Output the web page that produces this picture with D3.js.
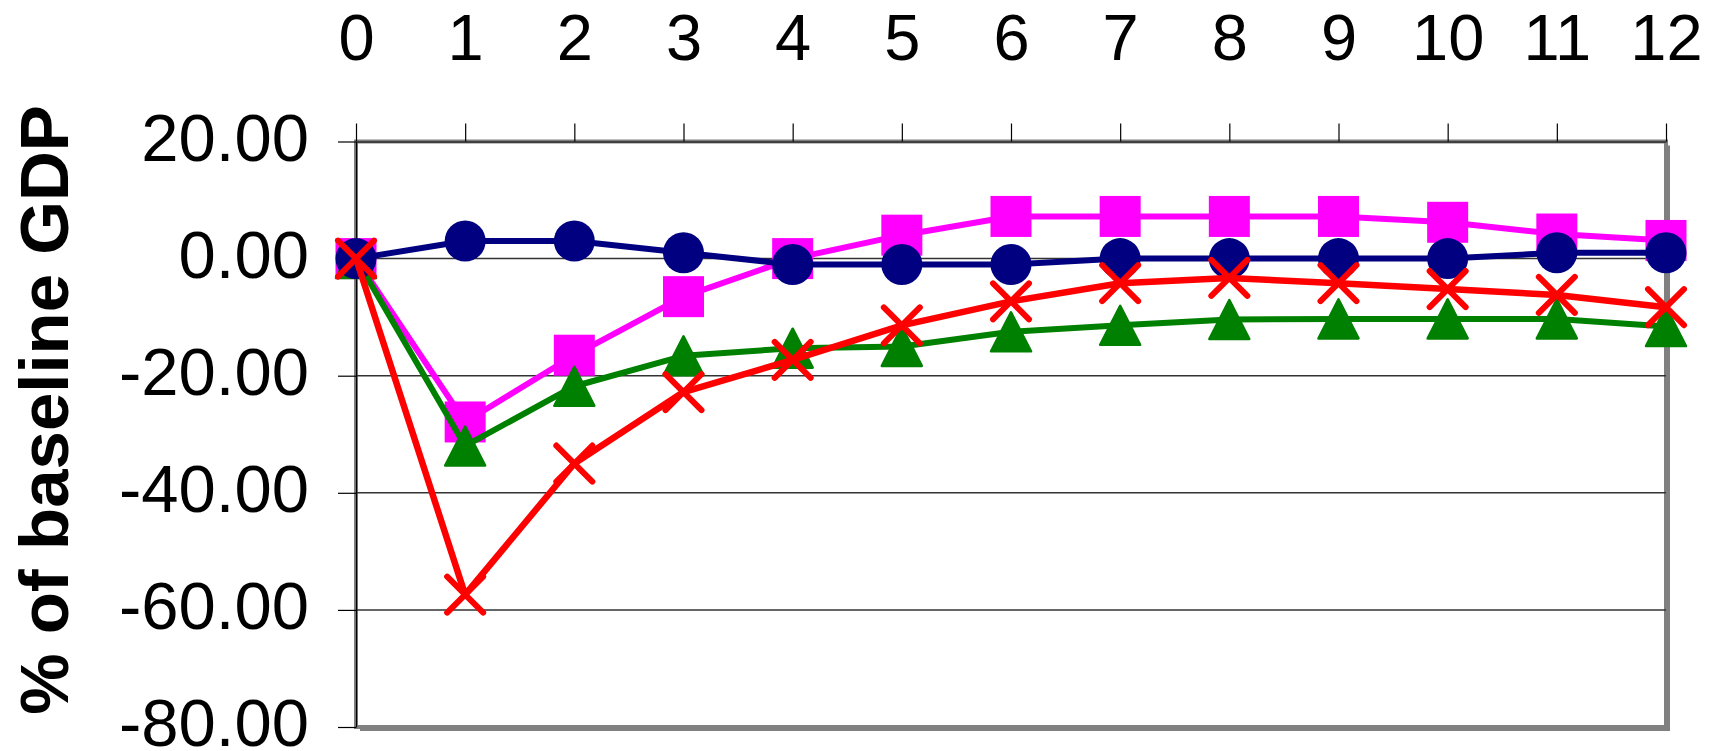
<!DOCTYPE html>
<html>
<head>
<meta charset="utf-8">
<script src="https://cdn.jsdelivr.net/npm/d3@7/dist/d3.min.js"></script>
<style>
  html, body { margin: 0; padding: 0; background: #ffffff; }
  svg { display: block; }
  text { font-family: "Liberation Sans", Arial, sans-serif; fill: #000; }
</style>
</head>
<body>
<svg id="chart" width="1725" height="751"></svg>
<script>
// Years after the shock (top axis)
const periods = [0, 1, 2, 3, 4, 5, 6, 7, 8, 9, 10, 11, 12];
const xTickLabels = ["0", "1", "2", "3", "4", "5", "6", "7", "8", "9", "10", "11", "12"];
const yTickValues = [20, 0, -20, -40, -60, -80];
const gridValues = [0, -20, -40, -60];

// Response of each scenario, % of baseline GDP
const circleSeries   = [0, 3, 3, 1, -1, -1, -1, 0, 0, 0, 0, 1, 1];
const squareSeries   = [0, -27.9, -16.5, -6.5, 0, 4, 7.2, 7.2, 7.2, 7.2, 6.2, 4.2, 3.1];
const triangleSeries = [0, -32, -21.8, -16.6, -15.3, -15, -12.5, -11.4, -10.4, -10.3, -10.3, -10.3, -11.6];
const crossSeries    = [0, -57.4, -35, -22.8, -17.3, -11.4, -7.3, -4.2, -3.3, -4.2, -5.2, -6.2, -8.3];

const yTitle = "% of baseline GDP";

const svg = d3.select("#chart");
const plot = { left: 356, right: 1666, top: 141.5, bottom: 727 };

const x = d3.scaleLinear().domain([0, 12]).range([plot.left, plot.right]);
const y = d3.scaleLinear().domain([-80, 20]).range([plot.bottom, plot.top]);

// Plot area with drop shadow
svg.append("rect")
  .attr("x", plot.left + 4).attr("y", plot.top + 4)
  .attr("width", plot.right - plot.left).attr("height", plot.bottom - plot.top)
  .attr("fill", "#808080");
svg.append("rect")
  .attr("x", plot.left).attr("y", plot.top)
  .attr("width", plot.right - plot.left).attr("height", plot.bottom - plot.top)
  .attr("fill", "#ffffff").attr("stroke", "#808080").attr("stroke-width", 4);

// Horizontal gridlines
svg.append("g").selectAll("line").data(gridValues).join("line")
  .attr("x1", plot.left).attr("x2", plot.right)
  .attr("y1", d => y(d)).attr("y2", d => y(d))
  .attr("stroke", "#333333").attr("stroke-width", 1.5);

// Top axis (periods)
const xAxis = svg.append("g")
  .attr("transform", `translate(0,${plot.top})`)
  .call(d3.axisTop(x).tickValues(periods).tickFormat((d, i) => xTickLabels[i])
    .tickSize(18).tickSizeOuter(0).tickPadding(64));
xAxis.selectAll("text").attr("font-size", 65);

// Left axis (values)
const yAxis = svg.append("g")
  .attr("transform", `translate(${plot.left},0)`)
  .call(d3.axisLeft(y).tickValues(yTickValues).tickFormat(d => d.toFixed(2))
    .tickSize(18).tickSizeOuter(0).tickPadding(29));
yAxis.selectAll("text").attr("font-size", 67).attr("dy", "0.28em");

[xAxis, yAxis].forEach(g => {
  g.select(".domain").attr("stroke", "#000").attr("stroke-width", 1.2);
  g.selectAll(".tick line").attr("stroke", "#000").attr("stroke-width", 1.2);
  g.selectAll("text").style("font-family", "'Liberation Sans', Arial, sans-serif");
});

// Axis title
svg.append("text")
  .attr("transform", "translate(68,410) rotate(-90)")
  .attr("text-anchor", "middle")
  .attr("font-size", 69).attr("font-weight", "bold")
  .text(yTitle);

const line = d3.line().x((d, i) => x(periods[i])).y(d => y(d));

function drawSeries(values, color, width, marker) {
  const g = svg.append("g");
  g.append("path").datum(values)
    .attr("d", line).attr("fill", "none")
    .attr("stroke", color).attr("stroke-width", width)
    .attr("stroke-linejoin", "round");
  const m = g.selectAll("g.m").data(values).join("g")
    .attr("transform", (d, i) => `translate(${x(periods[i])},${y(d)})`);
  marker(m, color);
}

const square = (m, c) => m.append("rect")
  .attr("x", -20.5).attr("y", -20.5).attr("width", 41).attr("height", 41).attr("fill", c);
const circle = (m, c) => m.append("circle").attr("r", 20.5).attr("fill", c);
const triangle = (m, c) => m.append("path")
  .attr("d", "M0,-19.5 L20,19.5 L-20,19.5 Z")
  .attr("fill", c).attr("stroke", c).attr("stroke-width", 2.5).attr("stroke-linejoin", "round");
const cross = (m, c) => m.append("path")
  .attr("d", "M-18,-18 L18,18 M-18,18 L18,-18")
  .attr("fill", "none").attr("stroke", c).attr("stroke-width", 6).attr("stroke-linecap", "round");

drawSeries(squareSeries, "#ff00ff", 6, square);
drawSeries(triangleSeries, "#008000", 6, triangle);
drawSeries(circleSeries, "#000080", 6, circle);
drawSeries(crossSeries, "#ff0000", 6.5, cross);
</script>
</body>
</html>
